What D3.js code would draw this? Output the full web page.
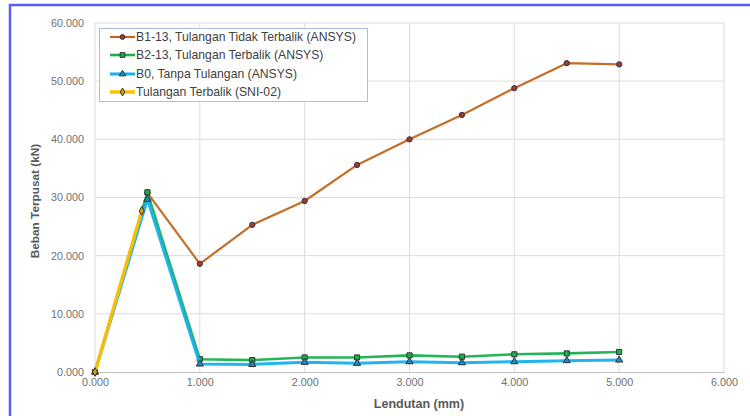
<!DOCTYPE html>
<html>
<head>
<meta charset="utf-8">
<script src="https://cdn.jsdelivr.net/npm/d3@7/dist/d3.min.js"></script>
<style>
  html, body { margin: 0; padding: 0; background: #fff; }
  svg { display: block; }
  text { font-family: "Liberation Sans", Arial, sans-serif; }
</style>
</head>
<body>
<svg id="chart" width="750" height="416"></svg>
<script>
// Deflection (mm) for each load step
const lendutan = [0, 0.5, 1.0, 1.5, 2.0, 2.5, 3.0, 3.5, 4.0, 4.5, 5.0];

// Concentrated load (kN) per series
const bebanB1 = [0, 30.8, 18.6, 25.3, 29.4, 35.6, 40.0, 44.2, 48.8, 53.1, 52.9];
const bebanB2 = [0, 30.9, 2.2, 2.05, 2.5, 2.5, 2.86, 2.63, 3.04, 3.2, 3.44];
const bebanB0 = [0, 29.7, 1.37, 1.3, 1.66, 1.49, 1.77, 1.6, 1.77, 1.95, 2.06];
const lendutanSNI = [0, 0.446];
const bebanSNI = [0, 27.7];

const seriesNames = [
  "B1-13, Tulangan Tidak Terbalik (ANSYS)",
  "B2-13, Tulangan Terbalik (ANSYS)",
  "B0, Tanpa Tulangan (ANSYS)",
  "Tulangan Terbalik (SNI-02)"
];

const xTicks = [0, 1, 2, 3, 4, 5, 6];
const yTicks = [0, 10, 20, 30, 40, 50, 60];

const svg = d3.select("#chart");

// frame lines along the top and left edges
svg.append("line").attr("x1", 9).attr("x2", 750).attr("y1", 5).attr("y2", 5)
  .attr("stroke", "#5b5bff").attr("stroke-width", 2.5);
svg.append("line").attr("x1", 10).attr("x2", 10).attr("y1", 4).attr("y2", 416)
  .attr("stroke", "#5b5bff").attr("stroke-width", 2.5);

const x = d3.scaleLinear().domain([0, 6]).range([95, 724]);
const y = d3.scaleLinear().domain([0, 60]).range([372, 23]);

const fmt = d3.format(".3f");

// gridlines
const grid = svg.append("g");
grid.selectAll("line.h").data(yTicks.filter(d => d > 0)).enter().append("line")
  .attr("x1", x(0)).attr("x2", x(6))
  .attr("y1", d => y(d)).attr("y2", d => y(d))
  .attr("stroke", "#dcdcdc").attr("stroke-width", 1);
grid.selectAll("line.v").data(xTicks).enter().append("line")
  .attr("x1", d => x(d)).attr("x2", d => x(d))
  .attr("y1", y(0)).attr("y2", y(60))
  .attr("stroke", "#dcdcdc").attr("stroke-width", 1);

// x axis
const xAxis = svg.append("g").attr("transform", `translate(0,${y(0)})`)
  .call(d3.axisBottom(x).tickValues(xTicks).tickFormat(fmt).tickSize(0).tickPadding(6));
xAxis.select(".domain").attr("stroke", "#bfbfbf").attr("stroke-width", 1.2);
xAxis.selectAll("text").attr("fill", "#707070").style("font-size", "10.8px")
  .style("font-family", "'Liberation Sans', Arial, sans-serif");

// y axis
const yAxis = svg.append("g").attr("transform", `translate(${x(0)},0)`)
  .call(d3.axisLeft(y).tickValues(yTicks).tickFormat(fmt).tickSize(0).tickPadding(11));
yAxis.select(".domain").remove();
yAxis.selectAll("text").attr("fill", "#707070").style("font-size", "10.8px")
  .style("font-family", "'Liberation Sans', Arial, sans-serif");

// axis titles
svg.append("text").attr("x", 419).attr("y", 408).attr("text-anchor", "middle")
  .attr("fill", "#595959").style("font-size", "12.5px").style("font-weight", "bold")
  .text("Lendutan (mm)");
svg.append("text").attr("transform", "translate(39,201) rotate(-90)")
  .attr("text-anchor", "middle").attr("fill", "#595959")
  .style("font-size", "11.8px").style("font-weight", "bold")
  .text("Beban Terpusat (kN)");

const series = [
  { name: seriesNames[0], xs: lendutan, ys: bebanB1, color: "#c0661e", width: 2.2, marker: "circle", mfill: "#a33a3a" },
  { name: seriesNames[1], xs: lendutan, ys: bebanB2, color: "#17b14e", width: 2.6, marker: "square", mfill: "#17b14e" },
  { name: seriesNames[2], xs: lendutan, ys: bebanB0, color: "#16b0ee", width: 3, marker: "triangle", mfill: "#1a8fc4" },
  { name: seriesNames[3], xs: lendutanSNI, ys: bebanSNI, color: "#ffc000", width: 3.5, marker: "diamond", mfill: "#d9a200" }
];

const symbolType = {
  circle: d3.symbolCircle,
  square: d3.symbolSquare,
  triangle: d3.symbolTriangle,
  diamond: d3.symbolDiamond
};

const line = d3.line().x(d => x(d[0])).y(d => y(d[1]));

const plot = svg.append("g");
series.forEach(s => {
  const pts = s.xs.map((v, i) => [v, s.ys[i]]);
  plot.append("path").datum(pts).attr("d", line)
    .attr("fill", "none").attr("stroke", s.color).attr("stroke-width", s.width)
    .attr("stroke-linejoin", "round").attr("opacity", 0.95);
  plot.selectAll(null).data(pts).enter().append("path")
    .attr("transform", d => `translate(${x(d[0])},${y(d[1])})`)
    .attr("d", d3.symbol().type(symbolType[s.marker]).size(s.marker === "square" ? 26 : 22))
    .attr("fill", s.mfill).attr("stroke", "#333").attr("stroke-width", 1);
});

// legend
const lg = svg.append("g");
lg.append("rect").attr("x", 99.5).attr("y", 28.5).attr("width", 268).attr("height", 73)
  .attr("fill", "#fff").attr("stroke", "#a8bfe0").attr("stroke-width", 1);
const rowY = [37, 55, 74, 92];
series.forEach((s, i) => {
  const ry = rowY[i];
  lg.append("line").attr("x1", 110).attr("x2", 135).attr("y1", ry).attr("y2", ry)
    .attr("stroke", s.color).attr("stroke-width", s.width);
  lg.append("path").attr("transform", `translate(122.5,${ry})`)
    .attr("d", d3.symbol().type(symbolType[s.marker]).size(s.marker === "square" ? 22 : 18))
    .attr("fill", s.mfill).attr("stroke", "#333").attr("stroke-width", 1);
  lg.append("text").attr("x", 136).attr("y", ry + 4).attr("fill", "#404040")
    .style("font-size", "12.2px").text(s.name);
});
</script>
</body>
</html>
